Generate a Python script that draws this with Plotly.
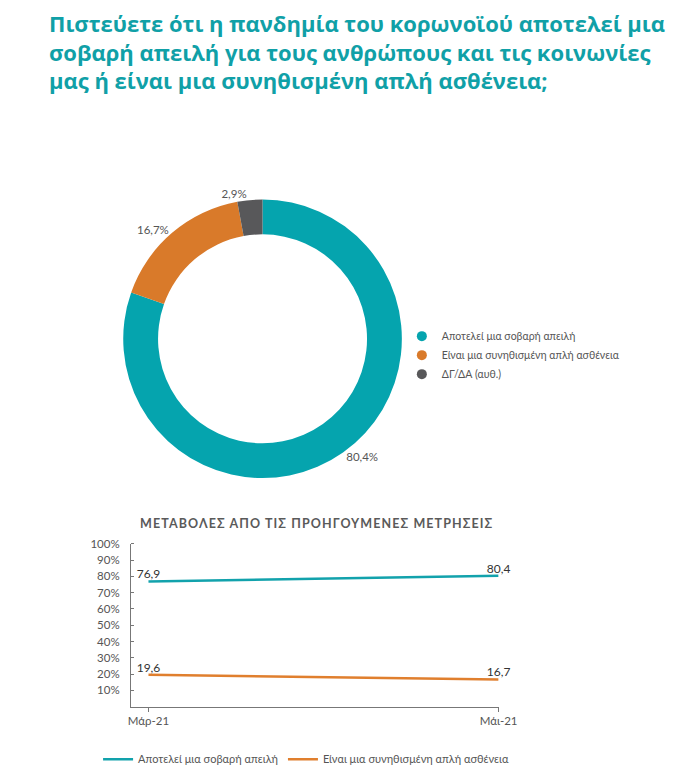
import plotly.graph_objects as go

W, H = 676, 766

# ---- data ----
pie_labels = ["Αποτελεί μια σοβαρή απειλή", "Είναι μια συνηθισμένη απλή ασθένεια", "ΔΓ/ΔΑ (αυθ.)"]
pie_values = [80.4, 16.7, 2.9]
pie_colors = ["#05A4AE", "#D97A2A", "#58585A"]

periods = ["Μάρ-21", "Μάι-21"]
threat_series = [76.9, 80.4]
simple_series = [19.6, 16.7]
series_names = ["Αποτελεί μια σοβαρή απειλή", "Είναι μια συνηθισμένη απλή ασθένεια"]
line_colors = ["#12A2AC", "#E07F2E"]
y_ticks = [10, 20, 30, 40, 50, 60, 70, 80, 90, 100]
y_tick_labels = [f"{v}%" for v in y_ticks]

title_text = ("Πιστεύετε ότι η πανδημία του κορωνοϊού αποτελεί μια<br>"
              "σοβαρή απειλή για τους ανθρώπους και τις κοινωνίες<br>"
              "μας ή είναι μια συνηθισμένη απλή ασθένεια;")
sub_title = "ΜΕΤΑΒΟΛΕΣ ΑΠΟ ΤΙΣ ΠΡΟΗΓΟΥΜΕΝΕΣ ΜΕΤΡΗΣΕΙΣ"

def px(x):
    return x / W

def py(y):
    return 1 - y / H

FONT = "Lato"
GRAY = "#555555"

fig = go.Figure()

fig.add_trace(go.Pie(
    labels=pie_labels, values=pie_values, hole=0.75, sort=False, direction="clockwise",
    rotation=0, marker=dict(colors=pie_colors, line=dict(width=0)),
    texttemplate="%{value:.1f}%", textposition="outside",
    textfont=dict(size=11.5, color=GRAY, family=FONT),
    domain=dict(x=[px(116), px(404)], y=[py(473.4), py(185.4)]),
    showlegend=False, automargin=False,
))

# legend entries for the donut (circle markers)
for lab, col in zip(pie_labels, pie_colors):
    fig.add_trace(go.Scatter(
        x=[None], y=[None], mode="markers", name=lab,
        marker=dict(symbol="circle", size=10, color=col),
        legend="legend", showlegend=True, hoverinfo="skip",
    ))

for name, vals, col in zip(series_names, [threat_series, simple_series], line_colors):
    fig.add_trace(go.Scatter(
        x=periods, y=vals, mode="lines+text", name=name,
        line=dict(color=col, width=2.5),
        texttemplate="%{y:.1f}", textposition="top center",
        textfont=dict(size=12, color="#333333", family=FONT),
        cliponaxis=False, legend="legend2",
    ))

fig.update_layout(
    width=W, height=H,
    margin=dict(l=0, r=0, t=0, b=0),
    paper_bgcolor="white", plot_bgcolor="white",
    separators=",.",
    font=dict(family=FONT, color=GRAY),
    xaxis=dict(
        domain=[px(124), px(504)], type="category", range=[-0.05, 1.0],
        showline=True, linecolor="#777777", linewidth=1,
        ticks="outside", ticklen=4, tickcolor="#777777",
        tickfont=dict(size=11.5, color=GRAY), showgrid=False, zeroline=False,
    ),
    yaxis=dict(
        domain=[py(703.6), py(538)], range=[0, 100],
        tickmode="array", tickvals=y_ticks, ticktext=y_tick_labels,
        showline=True, linecolor="#777777", linewidth=1,
        ticks="outside", ticklen=8, tickcolor="rgba(0,0,0,0)",
        minor=dict(tickmode="array", tickvals=y_ticks, ticks="inside", ticklen=3,
                   tickcolor="#777777", showgrid=False),
        tickfont=dict(size=11.5, color=GRAY), showgrid=False, zeroline=False,
    ),
    legend=dict(
        x=px(404), y=py(346), xanchor="left", yanchor="middle",
        font=dict(size=10.5, color=GRAY, family=FONT),
        bgcolor="rgba(0,0,0,0)", tracegroupgap=0, itemsizing="trace",
    ),
    legend2=dict(
        orientation="h", x=px(90), y=py(757), xanchor="left", yanchor="middle",
        font=dict(size=11, color=GRAY, family=FONT),
        bgcolor="rgba(0,0,0,0)",
    ),
    annotations=[
        dict(text=title_text, x=px(37), y=1, xref="paper", yref="paper",
             xanchor="left", yanchor="top", align="left", showarrow=False, yshift=9,
             font=dict(family="Open Sans", size=22, color="#10A0A7", weight="bold")),
        dict(text='<span style="letter-spacing:1.1px"><b>' + sub_title + "</b></span>",
             x=px(316), y=py(517), xref="paper", yref="paper",
             xanchor="center", yanchor="middle", showarrow=False,
             font=dict(family=FONT, size=12.5, color="#5a5a5a")),
    ],
)

fig.write_html("out.html")
